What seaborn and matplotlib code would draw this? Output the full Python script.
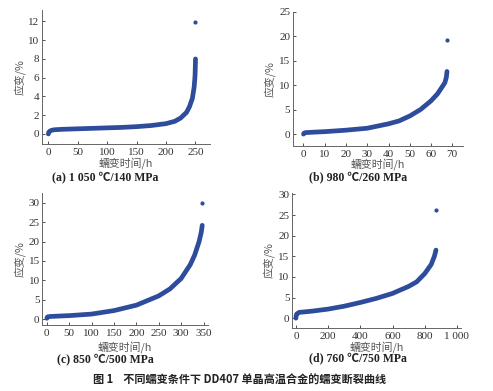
import matplotlib
matplotlib.use("Agg")
import matplotlib.pyplot as plt
import seaborn as sns
import pandas as pd

# (a) 1 050 ℃/140 MPa
t_a = [0, 0.5, 2, 5, 10, 25, 50, 75, 100, 125, 150, 175, 200, 215, 225, 235, 240, 245, 248, 249.5, 250, 250.3]
e_a = [0.0, 0.15, 0.28, 0.38, 0.45, 0.5, 0.55, 0.6, 0.65, 0.7, 0.78, 0.9, 1.1, 1.35, 1.7, 2.3, 2.9, 3.8, 5.0, 6.2, 7.2, 8.0]
end_a = (250, 11.9)

# (b) 980 ℃/260 MPa
t_b = [0, 0.3, 1, 5, 10, 20, 30, 40, 45, 50, 55, 60, 63, 65, 66.5, 67.2, 67.5]
e_b = [0.0, 0.2, 0.3, 0.4, 0.5, 0.8, 1.2, 2.1, 2.7, 3.7, 5.0, 6.8, 8.2, 9.5, 10.5, 11.6, 12.8]
end_b = (67.5, 19.3)

# (c) 850 ℃/500 MPa
t_c = [0, 0.5, 2, 10, 50, 100, 150, 200, 250, 275, 300, 320, 330, 340, 345, 347]
e_c = [0.2, 0.45, 0.6, 0.7, 0.9, 1.3, 2.2, 3.6, 6.0, 7.8, 10.5, 14.0, 16.5, 20.0, 22.5, 24.2]
end_c = (347, 30.0)

# (d) 760 ℃/750 MPa
t_d = [0, 1, 5, 20, 100, 200, 300, 400, 500, 600, 700, 750, 800, 840, 860, 870]
e_d = [0.0, 0.5, 1.0, 1.4, 1.7, 2.2, 2.9, 3.8, 4.8, 6.0, 7.7, 8.8, 10.8, 13.0, 15.0, 16.5]
end_d = (870, 26.1)

captions = ["(a) 1 050 ℃/140 MPa", "(b) 980 ℃/260 MPa", "(c) 850 ℃/500 MPa", "(d) 760 ℃/750 MPa"]
xticks = [[0, 50, 100, 150, 200, 250], [0, 10, 20, 30, 40, 50, 60, 70],
          [0, 50, 100, 150, 200, 250, 300, 350], [0, 200, 400, 600, 800, 1000]]
yticks = [[0, 2, 4, 6, 8, 10, 12], [0, 5, 10, 15, 20, 25],
          [0, 5, 10, 15, 20, 25, 30], [0, 5, 10, 15, 20, 25, 30]]
xlims = [(-11, 275), (-5, 75), (-10, 360), (-22, 1025)]
ylims = [(-1.1, 13.2), (-2.4, 25), (-1.5, 32.5), (-2.3, 30.3)]

sns.set_style("ticks")
serif = ["Liberation Serif", "Noto Sans CJK SC"]
cjk = ["Noto Sans CJK SC", "DejaVu Sans"]
plt.rcParams["font.family"] = serif

blue = "#2d4c9c"
grey = "#666666"

fig = plt.figure(figsize=(4.93, 3.91), dpi=100)
positions = [[0.085, 0.631, 0.341, 0.343], [0.594, 0.627, 0.345, 0.343],
             [0.086, 0.169, 0.336, 0.337], [0.593, 0.162, 0.342, 0.344]]
caption_xy = [(105, 177), (358, 177), (105, 359), (358, 358)]
xlabel_y = [163.5, 164, 347, 347]
ylabel_x = [19.5, 270, 19.5, 269]

series = [(t_a, e_a, end_a), (t_b, e_b, end_b), (t_c, e_c, end_c), (t_d, e_d, end_d)]

for i, (t, e, end) in enumerate(series):
    ax = fig.add_axes(positions[i])
    df = pd.DataFrame({"t": t, "e": e})
    sns.lineplot(data=df, x="t", y="e", ax=ax, color=blue, linewidth=3.4,
                 solid_capstyle="round", solid_joinstyle="round", sort=False)
    sns.scatterplot(x=[end[0]], y=[end[1]], ax=ax, color=blue, s=9, linewidth=0)
    ax.set_xlim(*xlims[i])
    ax.set_ylim(*ylims[i])
    ax.set_xticks(xticks[i])
    ax.set_yticks(yticks[i])
    if i == 3:
        ax.set_xticklabels(["0", "200", "400", "600", "800", "1 000"])
    ax.tick_params(labelsize=8, colors="#333333", length=2.5, width=0.6, direction="in")
    ax.tick_params(axis="x", pad=2.8)
    ax.tick_params(axis="y", pad=2)
    for sp in ["left", "bottom"]:
        ax.spines[sp].set_color(grey)
        ax.spines[sp].set_linewidth(0.7)
    sns.despine(ax=ax)
    ax.set_xlabel("蠕变时间/h", fontsize=7.8, color="#555555", family=cjk)
    ax.set_ylabel("应变/%", fontsize=7.8, color="#555555", family=cjk)
    l, b, w, h = positions[i]
    bot_px = (1 - b) * 391
    left_px = l * 493
    ax.xaxis.set_label_coords(0.5, (bot_px - xlabel_y[i]) / (h * 391))
    ax.yaxis.set_label_coords((ylabel_x[i] - left_px) / (w * 493), 0.5)
    ax.xaxis.label.set_va("center")
    ax.yaxis.label.set_va("center")
    cx, cy = caption_xy[i]
    fig.text(cx / 493, 1 - cy / 391, captions[i], ha="center", va="center",
             fontsize=8.5, fontweight="bold", color="#222222")

fig.text(240 / 493, 1 - 380 / 391, "图 1    不同蠕变条件下 DD407 单晶高温合金的蠕变断裂曲线",
         ha="center", va="center", fontsize=8, fontweight="bold", color="#222222", family=cjk)

fig.savefig("out.png", dpi=100)
